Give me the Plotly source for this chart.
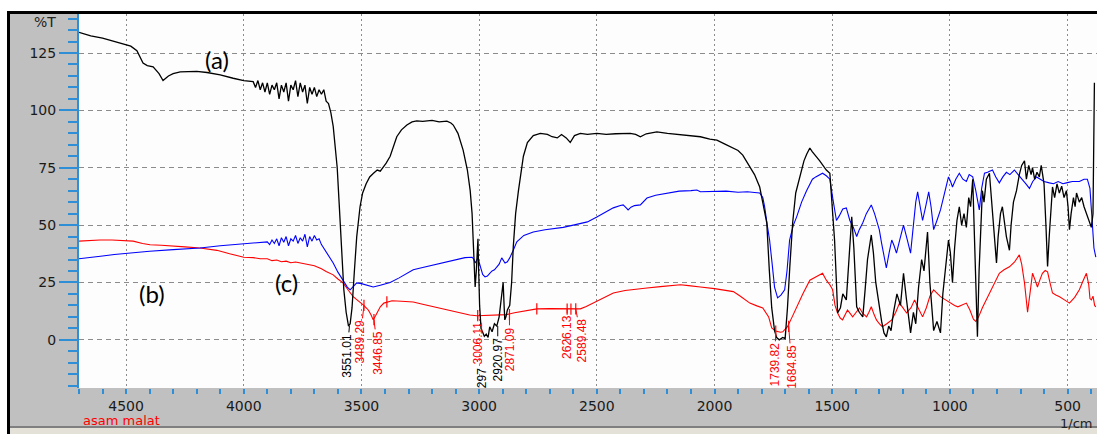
import plotly.graph_objects as go

# ---------------- data ----------------
# (a) black spectrum
wn_a = [4700, 4650, 4600, 4550, 4513, 4480, 4454, 4440, 4428, 4410, 4385, 4360, 4343, 4320, 4300, 4270,
        4241, 4200, 4156, 4100, 4045, 4000,
        3960, 3950, 3940, 3930, 3920, 3910, 3900, 3890, 3880, 3870, 3860, 3850, 3840, 3830, 3820, 3810,
        3800, 3790, 3780, 3770, 3760, 3750, 3740, 3730, 3720, 3710, 3700, 3690, 3680, 3670, 3660, 3650,
        3640, 3630, 3620, 3610, 3603, 3595, 3585, 3575, 3565, 3555, 3548, 3540, 3530, 3520, 3506, 3495,
        3480, 3465, 3450, 3433, 3420, 3408, 3395, 3378, 3365, 3350, 3330, 3307, 3285, 3265, 3240, 3200,
        3170, 3137, 3120, 3110, 3090, 3068, 3050, 3038, 3030, 3025, 3020, 3017, 3012, 3008, 3005, 3002,
        2998, 2992, 2985, 2978, 2970, 2962, 2955, 2945, 2935, 2925, 2915, 2906, 2902, 2898, 2894, 2891,
        2886, 2880, 2870, 2862, 2855, 2845, 2833, 2822, 2812, 2795, 2770, 2740, 2710, 2690, 2668, 2650,
        2630, 2613, 2595, 2570, 2540, 2500, 2460, 2420, 2380, 2358, 2335, 2315, 2290, 2245, 2200, 2150,
        2100, 2075, 2060, 2020, 1990, 1960, 1940, 1920, 1900, 1880, 1865, 1850, 1830, 1808, 1790, 1778,
        1767, 1757, 1745, 1736, 1725, 1710, 1700, 1690, 1680, 1668, 1655, 1638, 1620, 1608, 1595, 1585,
        1575, 1565, 1553, 1540, 1525, 1510, 1500, 1490, 1482, 1477, 1465, 1455, 1440, 1430, 1417, 1408,
        1396, 1385, 1370, 1360, 1350, 1334, 1325, 1315, 1300, 1290, 1280, 1270, 1260, 1250, 1240, 1225,
        1210, 1197, 1185, 1175, 1167, 1155, 1145, 1133, 1120, 1110, 1095, 1085, 1075, 1069, 1055, 1040,
        1030, 1020, 1006, 998, 989, 980, 970, 960, 950, 940, 930, 920, 912, 903, 895, 888, 883, 876,
        868, 862, 855, 845, 832, 822, 812, 802, 795, 785, 777, 768, 760, 747, 740, 730, 717, 705, 695,
        683, 675, 665, 655, 649, 640, 630, 620, 612, 600, 592, 585, 578, 570, 564, 555, 545, 535, 525,
        515, 505, 498, 492, 485, 475, 468, 462, 450, 440, 430, 420, 410, 399, 392, 388, 386]
t_a = [134, 132.5, 131.5, 130, 129, 128, 126, 123, 120.6, 119.5, 119, 116, 113, 115, 116, 116.8,
       117, 117, 116.5, 115.5, 114, 113,
       112.5, 110, 113, 109, 112, 108, 112, 107, 111, 109, 112, 105, 111, 108, 112, 104,
       111, 109, 113, 106, 112, 108, 111, 103, 110, 107, 110, 106, 109, 107, 109, 104,
       103, 99, 93, 84, 75, 60, 40, 22, 12, 6, 7, 14, 30, 45, 58, 64,
       68, 71, 72.5, 74, 73.5, 75, 77, 80, 84, 88.5, 91.5, 93.6, 95, 95.4, 95.2, 95.6,
       95, 95.3, 94.5, 93.6, 90, 82.7, 74, 65, 55, 43.5, 30, 23, 30, 40, 44, 30,
       15, 5, 3, 1.5, 2.5, 1, 5.7, 3.5, 7, 6, 10, 18, 24, 25, 15, 8.7,
       10, 13, 15, 25, 40.5, 55, 65, 74, 80, 86, 89, 90, 89.5, 88.5, 88, 89.5,
       88, 86, 89, 90, 89.5, 90, 89.5, 89.8, 90, 90, 89.5, 88.5, 89.8, 90.6, 90, 89.5,
       89, 88.5, 88.5, 87.5, 87, 85.5, 84.5, 83.6, 82.5, 80.5, 78, 75, 72, 66.6, 58, 51,
       30, 14, 4, 1, 0, 1, 0.5, 14, 32, 51, 64, 71, 78, 81, 83.6, 82,
       80.5, 79.5, 78, 76, 74, 72.6, 60, 43.5, 25, 11.7, 14, 20, 17.4, 35, 53.6, 40,
       14.4, 12, 10, 22, 35, 45.7, 38, 25, 14, 8, 3, 1.3, 6, 4, 11.7, 20,
       15, 29, 18, 8, 3, 12, 7, 23, 35, 30, 47, 25, 10, 4, 8, 3,
       20, 30, 43.5, 38, 25, 40, 52, 58, 50, 55, 49, 62, 58, 70, 45, 20, 1.3, 30,
       55, 65, 60, 70, 72.6, 60, 45, 33.5, 45, 55, 58, 50, 45, 39, 50, 60, 65, 72, 76,
       78, 70, 76, 72, 75, 70, 73, 71, 76, 68, 50, 32, 45, 60, 66.6, 62, 68, 64, 67,
       62, 65, 58, 48, 55, 62, 58, 64, 60, 62, 58, 55, 52, 49, 55, 80, 112]

# (b) blue spectrum
wn_b = [4700, 4650, 4600, 4550, 4470, 4400, 4300, 4186, 4100, 4000, 3960, 3930,
        3900, 3890, 3880, 3870, 3860, 3850, 3840, 3830, 3820, 3810, 3800, 3790, 3780, 3770, 3760, 3750,
        3740, 3730, 3720, 3710, 3700, 3690, 3680, 3670, 3660,
        3648, 3635, 3620, 3600, 3578, 3560, 3548, 3535, 3520, 3500, 3480, 3450, 3420, 3400, 3378, 3340,
        3300, 3280, 3240, 3200, 3137, 3100, 3060, 3030, 3022, 3017, 3010, 3005, 2995, 2985, 2975, 2965,
        2955, 2945, 2935, 2925, 2915, 2904, 2895, 2890, 2880, 2870, 2855, 2840, 2810, 2770, 2720, 2680,
        2643, 2600, 2540, 2500, 2460, 2430, 2400, 2388, 2375, 2367, 2355, 2340, 2315, 2300, 2287, 2250,
        2200, 2150, 2100, 2075, 2060, 2000, 1950, 1900, 1860, 1830, 1808, 1795, 1787, 1776, 1766, 1755,
        1745, 1732, 1718, 1702, 1692, 1681, 1665, 1651, 1630, 1609, 1595, 1584, 1570, 1555, 1541, 1525,
        1510, 1498, 1482, 1470, 1455, 1440, 1425, 1410, 1396, 1385, 1370, 1355, 1334, 1320, 1308, 1300,
        1290, 1278, 1270, 1258, 1247, 1237, 1227, 1212, 1197, 1182, 1167, 1155, 1145, 1137, 1127, 1116,
        1103, 1090, 1080, 1069, 1055, 1040, 1025, 1006, 997, 989, 975, 960, 945, 930, 918, 903, 890,
        880, 875, 865, 853, 840, 819, 805, 790, 775, 760, 745, 726, 710, 692, 677, 662, 648, 632, 615,
        600, 577, 560, 540, 520, 505, 480, 450, 430, 416, 405, 395, 388, 380]
t_b = [35.3, 35.8, 36.5, 37.2, 38, 38.6, 39.3, 40, 41, 42, 42.3, 42.5,
       42.7, 41.5, 43.5, 42, 44, 41, 44.5, 42.5, 45, 41, 44, 43, 45.5, 42, 44.5, 43,
       46, 40.5, 45, 43, 45.5, 43.5, 44, 41.5, 40,
       38, 36, 33.5, 29.5, 26, 23, 21.8, 23, 24.8, 24.5, 23.8, 23, 23.8, 24.5, 25, 27,
       29.3, 30.5, 31.5, 32.5, 34, 35, 35.8, 36, 35, 33.5, 35, 35.7, 32, 28.5, 27.4, 27.8,
       29, 30, 30.5, 31.8, 33, 35.7, 34.5, 33.5, 34, 35.7, 39, 42.7, 45.5, 47, 48, 48.5,
       49, 50, 51.4, 53.5, 55.8, 57.5, 58.5, 58.8, 57.5, 56.6, 57.8, 58.5, 58.8, 60.5, 61.8, 63,
       64, 64.8, 65, 65.3, 64.5, 64.5, 64.8, 64.3, 64.5, 64.2, 64, 62, 58, 50, 43.5, 33,
       23, 18.3, 19.5, 21.8, 30, 43.5, 50, 53.6, 60, 65, 68, 70, 71, 72, 72.6, 71.5,
       70, 62, 52, 54, 57, 57.5, 52, 49, 45, 48, 51, 55, 58.8, 55, 51, 48,
       42, 36, 31.3, 38, 43.5, 41, 37.8, 44, 50, 44, 37.8, 50, 60, 64.5, 58, 52,
       58, 64.5, 58, 48, 52, 56.6, 63, 71, 69, 66.6, 70, 72.6, 70, 69, 72, 71, 65,
       58, 56.6, 66, 72.6, 73, 74, 71, 68.4, 71, 73, 72, 74, 72, 70, 68, 66, 69, 71, 70,
       69, 68.4, 68, 69, 68, 68.4, 69, 69, 70, 70, 66, 51, 40, 36]

# (c) red spectrum (asam malat)
wn_c = [4700, 4650, 4611, 4560, 4470, 4430, 4398, 4350, 4300, 4250, 4186, 4150, 4114, 4060, 4000,
        3960, 3930, 3900, 3880, 3860, 3840, 3820, 3800, 3780, 3760, 3740, 3720, 3700, 3690, 3670, 3650,
        3635, 3620, 3600, 3578, 3555, 3535, 3520, 3506, 3490, 3484, 3471, 3460, 3450, 3440, 3430, 3420,
        3405, 3392, 3370, 3330, 3280, 3240, 3200, 3137, 3080, 3040, 3010, 2960, 2920, 2883, 2850, 2800,
        2755, 2700, 2650, 2626, 2610, 2589, 2570, 2545, 2515, 2480, 2430, 2380, 2330, 2287, 2230, 2180,
        2145, 2110, 2075, 2060, 2000, 1960, 1920, 1890, 1870, 1850, 1820, 1795, 1770, 1757, 1740, 1732,
        1720, 1710, 1700, 1690, 1670, 1651, 1625, 1595, 1570, 1555, 1541, 1525, 1510, 1498, 1488, 1477,
        1466, 1456, 1445, 1435, 1424, 1413, 1398, 1384, 1370, 1354, 1344, 1334, 1322, 1312, 1300, 1287,
        1268, 1247, 1230, 1214, 1200, 1184, 1165, 1150, 1135, 1116, 1100, 1085, 1069, 1055, 1040, 1020,
        997, 980, 966, 950, 930, 915, 900, 890, 878, 862, 846, 820, 790, 770, 747, 725, 705, 695, 683,
        675, 670, 660, 649, 638, 628, 618, 607, 595, 585, 575, 564, 550, 534, 515, 492, 470, 450, 435,
        420, 410, 405, 399, 392, 385, 380]
t_c = [43, 43.3, 43.5, 43.5, 43, 42, 41.4, 41.2, 41, 40.5, 40, 39.5, 39, 37.5, 36,
       35.8, 35.3, 35.3, 34.5, 34.8, 34, 34.3, 33.6, 33.9, 33.5, 33.2, 32.6, 32.3, 31.8, 31, 29.8,
       29, 28.3, 26.5, 24.8, 21.5, 18.8, 17.5, 16.5, 15, 14.4, 13, 11, 8.7, 10.5, 12.5, 14.4,
       16, 16.5, 17, 16.8, 16.5, 15.5, 14.5, 13, 11.5, 10.8, 10.5, 10.6, 10.8, 11, 11.8, 12.8,
       13.5, 13.6, 13.5, 13.4, 13.4, 13.5, 13.5, 14.5, 16, 18, 20.4, 21.5, 22.2, 22.6, 23.2, 23.8,
       24, 23.6, 23, 23, 22.3, 21.8, 21, 19, 17.5, 16, 14.8, 13.9, 10, 5.2, 3.8, 3.5,
       3.3, 3.5, 4.5, 5.7, 10, 14.4, 20, 26, 27.5, 28.5, 29, 26, 24, 21.8, 15, 11.7,
       9.5, 8.7, 11, 13, 11.5, 10, 12, 13.9, 11.5, 10, 12, 14.4, 11, 8.7, 7, 5.7,
       7, 8.7, 12, 16, 14, 11.7, 14, 17.4, 14, 10, 14, 19, 21.8, 20.5, 18.8, 17.5,
       16, 15, 14.4, 15, 16, 13, 9, 8, 10, 14, 17.4, 23, 29, 30.5, 31.8, 34, 37, 33, 24.8,
       17, 12, 20, 29, 26, 23, 26, 29, 30.2, 29.6, 25, 20.4, 19.5, 18.8, 17.5, 16, 18.5, 21.8, 25.5,
       29, 24, 18, 17.4, 19, 15, 14.4]

# peak picks
red_tick_wn = [3489.29, 3446.85, 3392, 3006.11, 2871.09, 2755, 2626.13, 2610, 2589.48, 1739.82, 1684.85]
red_tick_t = [15, 8.8, 16.5, 10.5, 11, 13.5, 13.4, 13.4, 13.5, 3.8, 5.9]

peak_wn = [3551.01, 3489.29, 3446.85, 3006.11, 2920.97, 2871.09, 2626.13, 2589.48, 1739.82, 1684.85]
peak_t = [6, 15, 8.8, 10.5, 6, 11, 13.4, 13.5, 3.8, 5.9]
peak_text = ["3551.01", "3489.29", "3446.85", "3006.11", "2920.97", "2871.09",
             "2626.13", "2589.48", "1739.82", "1684.85"]
peak_color = ["black", "red", "red", "red", "black", "red", "red", "red", "red", "red"]

x_ticks = [4500, 4000, 3500, 3000, 2500, 2000, 1500, 1000, 500]
y_ticks = [0, 25, 50, 75, 100, 125]

# ---------------- figure ----------------
W, H = 1097, 434
ML, MR, MT, MB = 79, 0, 14, 46
PW, PH = W - ML - MR, H - MT - MB

fig = go.Figure()
fig.add_trace(go.Scatter(x=wn_c, y=t_c, mode="lines", line=dict(color="#ff0000", width=1.1),
                         hoverinfo="skip"))
fig.add_trace(go.Scatter(x=wn_b, y=t_b, mode="lines", line=dict(color="#0000ff", width=1.1),
                         hoverinfo="skip"))
fig.add_trace(go.Scatter(x=wn_a, y=t_a, mode="lines", line=dict(color="#000000", width=1.3),
                         hoverinfo="skip"))
fig.add_trace(go.Scatter(x=red_tick_wn, y=red_tick_t, mode="markers",
                         marker=dict(symbol="line-ns-open", size=8, color="#ff0000",
                                     line=dict(color="#ff0000", width=1.2)),
                         hoverinfo="skip"))

# peak labels (vertical text with connectors); label centres are layout positions
label_center = [-7.0, -0.9, -5.7, -1.3, -8.7, -3.9, 1.3, -0.4, -10.9, -11.8]
label_shift = [11, 18, -17, 0, 0, 0, 0, -25, 5, -13]
for w, t, txt, col, yc, dx in zip(peak_wn, peak_t, peak_text, peak_color, label_center, label_shift):
    fig.add_annotation(x=w, y=t, xref="x", yref="y", text=txt, textangle=-90,
                       showarrow=True, arrowhead=0, arrowwidth=1, arrowcolor=col,
                       axref="x", ayref="y", ax=w + dx, ay=yc, standoff=0, startstandoff=0,
                       font=dict(family="Liberation Sans, Arial, sans-serif", size=12, color=col))
fig.add_annotation(x=2990, y=-16.5, xref="x", yref="y", text="297", textangle=-90, showarrow=False,
                   font=dict(family="Liberation Sans, Arial, sans-serif", size=12, color="black"))

# curve labels
for txt, xx, yy in [("(a)", 4114, 122), ("(b)", 4390, 20), ("(c)", 3817, 24.8)]:
    fig.add_annotation(x=xx, y=yy, xref="x", yref="y", text=txt, showarrow=False,
                       font=dict(family="Lato, Open Sans, sans-serif", size=24, color="black"))

# axis captions
fig.add_annotation(xref="paper", yref="paper", x=(58 - ML) / PW, y=1 - (22 - MT) / PH,
                   xanchor="right", yanchor="middle", text="%T", showarrow=False,
                   font=dict(family="DejaVu Sans, Verdana, sans-serif", size=14, color="#222"))
fig.add_annotation(xref="paper", yref="paper", x=(1094 - ML) / PW, y=-(423 - MT - PH) / PH,
                   xanchor="right", yanchor="middle", text="1/cm", showarrow=False,
                   font=dict(family="DejaVu Sans, Verdana, sans-serif", size=13, color="#222"))
fig.add_annotation(xref="paper", yref="paper", x=(81 - ML) / PW, y=-(421 - MT - PH) / PH,
                   xanchor="left", yanchor="middle", text="asam malat", showarrow=False,
                   font=dict(family="DejaVu Sans, Verdana, sans-serif", size=13, color="#ff0000"))

# window frame (white outer strip + black border)
def px_x(p):
    return (p - ML) / PW

def px_y(p):
    return (MT + PH - p) / PH

shapes = [
    dict(type="rect", xref="paper", yref="paper", x0=px_x(-5), x1=px_x(W + 5), y0=px_y(11), y1=px_y(-5),
         fillcolor="white", line=dict(width=0), layer="above"),
    dict(type="rect", xref="paper", yref="paper", x0=px_x(-5), x1=px_x(7), y0=px_y(H + 5), y1=px_y(-5),
         fillcolor="white", line=dict(width=0), layer="above"),
    dict(type="line", xref="paper", yref="paper", x0=px_x(7), x1=px_x(W + 5), y0=px_y(12.5), y1=px_y(12.5),
         line=dict(color="black", width=3), layer="above"),
    dict(type="line", xref="paper", yref="paper", x0=px_x(8.5), x1=px_x(8.5), y0=px_y(11), y1=px_y(H + 5),
         line=dict(color="black", width=3), layer="above"),
    dict(type="rect", xref="paper", yref="paper", x0=px_x(10), x1=px_x(W + 5), y0=px_y(H + 5), y1=px_y(428),
         fillcolor="#e4e1d8", line=dict(width=0), layer="above"),
    dict(type="line", xref="paper", yref="paper", x0=px_x(10), x1=px_x(W + 5), y0=px_y(427), y1=px_y(427),
         line=dict(color="#6a6a6a", width=1.5), layer="above"),
]

tick_blue = "#2f8fd6"
fig.update_layout(
    width=W, height=H,
    margin=dict(l=ML, r=MR, t=MT, b=MB, pad=0),
    paper_bgcolor="#c0c0c0",
    plot_bgcolor="#fdfdfd",
    showlegend=False,
    shapes=shapes,
    xaxis=dict(range=[4700, 375], autorange=False, tickmode="array", tickvals=x_ticks,
               ticktext=[str(v) for v in x_ticks],
               showgrid=True, gridcolor="#8c8c8c", gridwidth=1, griddash="2px,3px",
               ticks="outside", ticklen=5, tickwidth=2, tickcolor=tick_blue,
               minor=dict(dtick=100, tick0=0, ticks="outside", ticklen=5, tickwidth=2,
                          tickcolor=tick_blue, showgrid=False),
               showline=False, zeroline=False,
               tickfont=dict(family="DejaVu Sans, Verdana, sans-serif", size=14, color="#1a1a1a")),
    yaxis=dict(range=[-21, 142], autorange=False, tickmode="array", tickvals=y_ticks,
               ticktext=[str(v) for v in y_ticks],
               showgrid=True, gridcolor="#8c8c8c", gridwidth=1, griddash="5px,4px",
               ticks="outside", ticklen=18, tickwidth=2, tickcolor=tick_blue,
               minor=dict(dtick=5, tick0=0, ticks="outside", ticklen=9, tickwidth=2,
                          tickcolor=tick_blue, showgrid=False),
               showline=True, linecolor=tick_blue, linewidth=2, zeroline=False,
               tickfont=dict(family="DejaVu Sans, Verdana, sans-serif", size=14, color="#1a1a1a")),
)

fig.write_html("out.html", config={"displayModeBar": False},
               post_script="document.body.style.margin='0';document.body.style.overflow='hidden';")
